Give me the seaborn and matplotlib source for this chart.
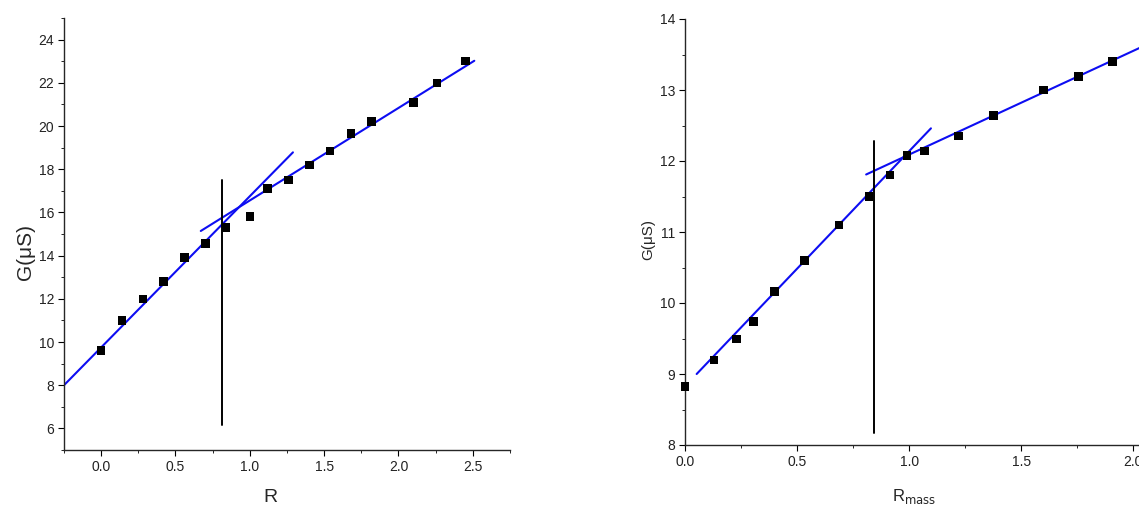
import numpy as np
import pandas as pd
import matplotlib
matplotlib.use("Agg")
import matplotlib.pyplot as plt
from matplotlib.ticker import MultipleLocator
import seaborn as sns

# ---------------- data ----------------
# left panel
left_x = [0.0, 0.14, 0.28, 0.42, 0.56, 0.70, 0.84, 1.0, 1.12, 1.26, 1.40, 1.54, 1.68, 1.82, 2.10, 2.26, 2.45]
left_y = [9.6, 11.0, 12.0, 12.8, 13.9, 14.55, 15.3, 15.8, 17.1, 17.5, 18.2, 18.85, 19.65, 20.2, 21.1, 22.0, 23.0]
left_fit1_x = [-0.25, 1.29]
left_fit1_y = [8.0, 18.78]
left_fit2_x = [0.67, 2.51]
left_fit2_y = [15.14, 23.02]
left_vline_x = [0.81, 0.81]
left_vline_y = [6.15, 17.5]

# right panel
right_x = [0.0, 0.13, 0.23, 0.305, 0.40, 0.534, 0.686, 0.821, 0.915, 0.99, 1.068, 1.22, 1.375, 1.60, 1.755, 1.906]
right_y = [8.82, 9.20, 9.49, 9.74, 10.16, 10.60, 11.10, 11.50, 11.80, 12.08, 12.14, 12.35, 12.64, 13.0, 13.19, 13.40]
right_fit1_x = [0.052, 1.097]
right_fit1_y = [9.0, 12.46]
right_fit2_x = [0.808, 2.06]
right_fit2_y = [11.81, 13.64]
right_vline_x = [0.844, 0.844]
right_vline_y = [8.17, 12.28]

left_xticks = [0.0, 0.5, 1.0, 1.5, 2.0, 2.5]
left_yticks = [6, 8, 10, 12, 14, 16, 18, 20, 22, 24]
right_xticks = [0.0, 0.5, 1.0, 1.5, 2.0]
right_yticks = [8, 9, 10, 11, 12, 13, 14]

# ---------------- style ----------------
sns.set_style("ticks")
plt.rcParams["font.family"] = ["Liberation Sans", "DejaVu Sans"]
plt.rcParams["axes.linewidth"] = 1.0
plt.rcParams["xtick.major.size"] = 4
plt.rcParams["ytick.major.size"] = 4
plt.rcParams["xtick.minor.size"] = 2.5
plt.rcParams["ytick.minor.size"] = 2.5
plt.rcParams["xtick.direction"] = "out"
plt.rcParams["ytick.direction"] = "out"

W, H = 1139, 505
fig = plt.figure(figsize=(W / 100, H / 100), dpi=100)
fig.patch.set_facecolor("white")

BLUE = "#0d0df2"

def px_axes(x0, x1, ytop, ybot):
    return fig.add_axes([x0 / W, 1 - ybot / H, (x1 - x0) / W, (ybot - ytop) / H])

axL = px_axes(64, 510, 18, 450)
axR = px_axes(685, 1139, 19, 445)

def draw(ax, xs, ys, f1x, f1y, f2x, f2y, vx, vy):
    sns.lineplot(x=f1x, y=f1y, ax=ax, color=BLUE, lw=1.5, sort=False, estimator=None)
    sns.lineplot(x=f2x, y=f2y, ax=ax, color=BLUE, lw=1.5, sort=False, estimator=None)
    sns.lineplot(x=vx, y=vy, ax=ax, color="black", lw=1.4, sort=False, estimator=None)
    sns.scatterplot(x=xs, y=ys, ax=ax, marker="s", s=38, color="black",
                    edgecolor="none", zorder=5, clip_on=False)

draw(axL, left_x, left_y, left_fit1_x, left_fit1_y, left_fit2_x, left_fit2_y,
     left_vline_x, left_vline_y)
draw(axR, right_x, right_y, right_fit1_x, right_fit1_y, right_fit2_x, right_fit2_y,
     right_vline_x, right_vline_y)

axL.set_xlim(-0.25, 2.75)
axL.set_ylim(5, 25)
axL.set_xticks(left_xticks)
axL.set_yticks(left_yticks)
axL.xaxis.set_minor_locator(MultipleLocator(0.25))
axL.yaxis.set_minor_locator(MultipleLocator(1))

axR.set_xlim(0, 2.025)
axR.set_ylim(8, 14)
axR.set_xticks(right_xticks)
axR.set_yticks(right_yticks)
axR.xaxis.set_minor_locator(MultipleLocator(0.25))
axR.yaxis.set_minor_locator(MultipleLocator(0.5))

for ax in (axL, axR):
    sns.despine(ax=ax)
    ax.set_xticklabels([f"{t:.1f}" for t in ax.get_xticks()])
    ax.tick_params(axis="both", which="both", labelsize=10, colors="black",
                   labelcolor="#222222", pad=3)
    ax.set_xlabel("")
    ax.set_ylabel("")
    ax.set_facecolor("none")

axL.set_yticklabels([str(t) for t in left_yticks])
axR.set_yticklabels([str(t) for t in right_yticks])

# axis labels
fig.text(25 / W, 1 - 252 / H, "G(μS)", rotation=90, ha="center", va="center", fontsize=15)
fig.text(270 / W, 1 - 489 / H, "R", ha="center", va="top", fontsize=14)
fig.text(648 / W, 1 - 240 / H, "G(μS)", rotation=90, ha="center", va="center", fontsize=11)
fig.text(892 / W, 1 - 487 / H, r"R$_{\mathrm{mass}}$", ha="left", va="top", fontsize=12)

fig.savefig("out.png", dpi=100, facecolor="white")
